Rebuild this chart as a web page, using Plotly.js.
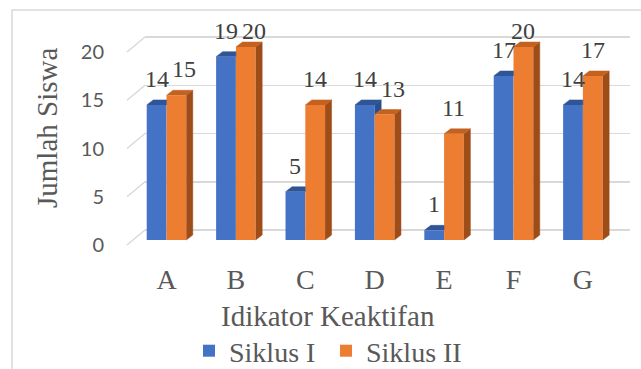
<!DOCTYPE html>
<html><head><meta charset="utf-8">
<script src="https://cdn.plot.ly/plotly-3.0.1.min.js"></script>
<style>html,body{margin:0;padding:0;background:#fff}#chart{width:641px;height:369px}</style>
</head><body><div id="chart"></div>
<script>
const categories = ['A','B','C','D','E','F','G'];
const siklus1 = [14,19,5,14,1,17,14];
const siklus2 = [15,20,14,13,11,20,17];
const yTicks = [0,5,10,15,20];
const seriesNames = ['Siklus I','Siklus II'];
const xTitle = 'Idikator Keaktifan';
const yTitle = 'Jumlah Siswa';

const SERIF = 'Liberation Serif';
const SANS = 'Lato';

// geometry (styling)
const PXY = 9.65, PXX = 69.4;          // pixels per unit
const DX = 6.5 / PXX, DY = 5 / PXY;    // 3-D depth
const BW = 0.285;                      // single bar width (category units)
const xs = categories.map((c, i) => i);

const blue = '#4472C4', blueTopC = '#2F5597', blueSideC = '#2B4E8C';
const orange = '#ED7D31', orangeTopC = '#C4611F', orangeSideC = '#9E4C18';

function poly(pts, arrX, arrY){ pts.forEach(p => {arrX.push(p[0]); arrY.push(p[1]);}); arrX.push(null); arrY.push(null); }

const bTopX=[], bTopY=[], bSideX=[], bSideY=[], oTopX=[], oTopY=[], oSideX=[], oSideY=[];
xs.forEach((i, k) => {
  const v1 = siklus1[k], v2 = siklus2[k];
  const xl = i - BW, xm = i, xr = i + BW;
  if (v1 > v2) {
    poly([[xl,v1],[xl+DX,v1+DY],[xm+DX,v1+DY],[xm,v1]], bTopX, bTopY);
    poly([[xm,v2],[xm+DX,v2+DY],[xm+DX,v1+DY],[xm,v1]], bSideX, bSideY);
  } else {
    poly([[xl,v1],[xl+DX,v1+DY],[xm,v1+DY],[xm,v1]], bTopX, bTopY);
  }
  poly([[xr,0],[xr+DX,DY],[xr+DX,v2+DY],[xr,v2]], oSideX, oSideY);
  poly([[xm,v2],[xm+DX,v2+DY],[xr+DX,v2+DY],[xr,v2]], oTopX, oTopY);
});

function face(x, y, c){
  return {x, y, type:'scatter', mode:'lines', fill:'toself', fillcolor:c,
          line:{color:c, width:0.5}, hoverinfo:'skip', showlegend:false, xaxis:'x', yaxis:'y'};
}

const traces = [
  {type:'bar', x:xs, y:siklus1, name:seriesNames[0], marker:{color:blue, line:{width:0}}, xaxis:'x', yaxis:'y'},
  {type:'bar', x:xs, y:siklus2, name:seriesNames[1], marker:{color:orange, line:{width:0}}, xaxis:'x', yaxis:'y'},
  face(bTopX, bTopY, blueTopC),
  face(bSideX, bSideY, blueSideC),
  face(oSideX, oSideY, orangeSideC),
  face(oTopX, oTopY, orangeTopC),
  {type:'scatter', x:[xs[0]], y:[0], mode:'markers', marker:{opacity:0}, hoverinfo:'skip', showlegend:false, xaxis:'x', yaxis:'y2'},
  {type:'scatter', x:[xs[0]], y:[0], mode:'markers', marker:{opacity:0}, hoverinfo:'skip', showlegend:false, xaxis:'x', yaxis:'y3'}
];

const LBL_UP = 26 / PXY, LBL_MAX = 209 / PXY;
const annotations = [];
xs.forEach((i, k) => {
  const v1 = siklus1[k], v2 = siklus2[k];
  const y1 = Math.min(v1 + LBL_UP, LBL_MAX), y2 = Math.min(v2 + LBL_UP, LBL_MAX);
  const w1 = String(v1).length * 12, w2 = String(v2).length * 12;
  const overlapX = (BW * PXX) < (w1 + w2) / 2;
  const shift = (overlapX && Math.abs(y1 - y2) * PXY < 16) ? 8 : 0;
  annotations.push({x: i - BW/2, y: y1, xref:'x', yref:'y', text:String(v1), showarrow:false,
    font:{family:SERIF, size:24, color:'#404040'}, xanchor:'center', yanchor:'middle'});
  annotations.push({x: i + BW/2, y: y2, xref:'x', yref:'y', text:String(v2), showarrow:false, xshift: shift,
    font:{family:SERIF, size:24, color:'#404040'}, xanchor:'center', yanchor:'middle'});
});

const L = 145, R = 11, T = 8, B = 121;
const plotW = 641 - L - R, plotH = 369 - T - B;
const px2paperX = p => (p - L) / plotW;
const px2paperY = p => (369 - B - p) / plotH;

annotations.push({text: xTitle, xref:'paper', yref:'paper', x: px2paperX(328), y: px2paperY(316),
  showarrow:false, xanchor:'center', yanchor:'middle',
  font:{family:SERIF, size:29, color:'#595959'}});
annotations.push({text: yTitle, xref:'paper', yref:'paper', x: px2paperX(47), y: px2paperY(128),
  showarrow:false, xanchor:'center', yanchor:'middle', textangle:-90,
  font:{family:SERIF, size:29, color:'#595959'}});

const shapes = [];
yTicks.forEach(v => {
  shapes.push({type:'line', xref:'paper', yref:'y2', x0: px2paperX(127), x1: 0, y0: v - 15/PXY, y1: v,
    line:{color:'#D9D9D9', width:1.5}, layer:'below'});
});
shapes.push({type:'rect', xref:'paper', yref:'paper', x0: px2paperX(12), x1: px2paperX(660), y0: px2paperY(400), y1: px2paperY(10),
  line:{color:'#D9D9D9', width:1.5}, fillcolor:'rgba(0,0,0,0)', layer:'below'});

const xr0 = -(166.5 - L) / PXX;
const layout = {
  width:641, height:369,
  margin:{l:L, r:R, t:T, b:B, pad:0, autoexpand:false},
  paper_bgcolor:'#ffffff', plot_bgcolor:'rgba(0,0,0,0)',
  font:{family:SERIF, color:'#595959'},
  barmode:'group', bargap:0.43, bargroupgap:0,
  showlegend:true,
  legend:{orientation:'h', x: px2paperX(189), y: px2paperY(351), xanchor:'left', yanchor:'middle',
    font:{family:SERIF, size:28, color:'#595959'},
    itemwidth:30, entrywidth:92, tracegroupgap:0, bgcolor:'rgba(0,0,0,0)'},
  xaxis:{type:'linear', range:[xr0, xr0 + plotW / PXX], tickvals:xs, ticktext:categories,
    showgrid:false, zeroline:false, showline:false, ticks:'', ticklabelstandoff:12,
    tickfont:{family:SERIF, size:28, color:'#595959'}, fixedrange:true},
  yaxis:{range:[-(248-240)/PXY, -(248-240)/PXY + plotH/PXY], showgrid:false, zeroline:false,
    showticklabels:false, ticks:'', showline:false, fixedrange:true},
  yaxis2:{overlaying:'y', range:[-(248-230)/PXY, -(248-230)/PXY + plotH/PXY], tickvals:yTicks,
    showgrid:true, gridcolor:'#D9D9D9', gridwidth:1.5, zeroline:false, showticklabels:false, ticks:'', showline:false, fixedrange:true},
  yaxis3:{overlaying:'y', range:[-(248-245)/PXY, -(248-245)/PXY + plotH/PXY], tickvals:yTicks,
    showgrid:false, zeroline:false, ticks:'', showline:false, ticklabelstandoff:40, fixedrange:true,
    tickfont:{family:SANS, size:20, color:'#595959'}},
  annotations, shapes
};

Plotly.newPlot('chart', traces, layout, {displayModeBar:false, staticPlot:true});
</script>
</body></html>
